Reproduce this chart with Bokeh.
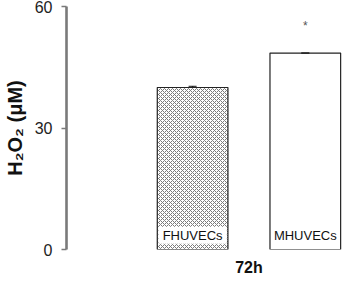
from bokeh.plotting import figure
from bokeh.models import Range1d, FixedTicker, Label, ColumnDataSource, Whisker
from bokeh.core.properties import value
from bokeh.embed import file_html
from bokeh.resources import INLINE

categories = ["FHUVECs", "MHUVECs"]
means = [40.0, 48.5]
errors = [0.3, 0.0]
y_ticks = [0, 30, 60]
group_label = "72h"
significance = ["", "*"]

xs = list(range(len(categories)))
FONT = "Liberation Sans"

p = figure(width=342, height=278, output_backend="svg", toolbar_location=None,
           x_range=Range1d(-1.119, 1.33), y_range=Range1d(0, 60),
           min_border_left=61, min_border_right=0, min_border_top=6, min_border_bottom=20)
p.outline_line_color = None
p.grid.visible = False
p.background_fill_color = "white"
p.border_fill_color = "white"

xa = p.xaxis[0]
xa.ticker = FixedTicker(ticks=[(xs[0] + xs[1]) / 2])
xa.major_label_overrides = {(xs[0] + xs[1]) / 2: group_label}
xa.axis_line_color = None
xa.major_tick_line_color = None
xa.minor_tick_line_color = None
xa.major_label_standoff = 3
xa.major_label_text_font = FONT
xa.major_label_text_font_size = "16px"
xa.major_label_text_font_style = "bold"
xa.major_label_text_color = "#111111"

ax = p.yaxis[0]
ax.ticker = FixedTicker(ticks=y_ticks)
ax.axis_line_color = "#7a7a7a"
ax.axis_line_width = 2.6
ax.major_tick_line_color = "#7a7a7a"
ax.major_tick_line_width = 1.5
ax.major_tick_out = 5
ax.major_tick_in = 0
ax.minor_tick_line_color = None
ax.major_label_text_font = FONT
ax.major_label_text_font_size = "16px"
ax.major_label_text_color = "#222222"
ax.major_label_standoff = 9
ax.axis_label = "H\u2082O\u2082 (\u03bcM)"
ax.axis_label_text_font = FONT
ax.axis_label_text_font_size = "20px"
ax.axis_label_text_font_style = "bold"
ax.axis_label_text_color = "#111111"
ax.axis_label_standoff = 6

bar_w = 0.627
src = ColumnDataSource(dict(x=xs, top=means, cat=categories,
                            upper=[m + e for m, e in zip(means, errors)],
                            lower=[m - e for m, e in zip(means, errors)]))

p.vbar(x=[xs[0]], top=[means[0]], width=bar_w, bottom=0,
       fill_color="white", line_color=None,
       hatch_pattern="x", hatch_color="#7a7a7a", hatch_scale=4, hatch_weight=1)
p.quad(left=[xs[0] - bar_w / 2 + 0.01], right=[xs[0] + bar_w / 2 - 0.01],
       bottom=[1.4], top=[5.6], fill_color="white", line_color=None)
p.vbar(x=xs, top=means, width=bar_w, bottom=0, fill_color=None,
       line_color="#222222", line_width=1.2)

p.text(x="x", y=3.4, text="cat", source=src, text_font=value(FONT),
       text_font_size="13px", text_align="center", text_baseline="middle",
       text_color="#111111")

w = Whisker(base="x", upper="upper", lower="lower", source=src,
            line_color="#111111", line_width=1.5)
w.upper_head.size = 8
w.lower_head.size = 8
w.upper_head.line_color = "#111111"
w.lower_head.line_color = "#111111"
p.add_layout(w)

for i, s in enumerate(significance):
    if s:
        p.add_layout(Label(x=xs[i], y=55.3, text=s, text_align="center",
                           text_baseline="middle", text_font=FONT,
                           text_font_size="12px", text_color="#555555"))

open("out.html", "w").write(file_html(p, INLINE))
